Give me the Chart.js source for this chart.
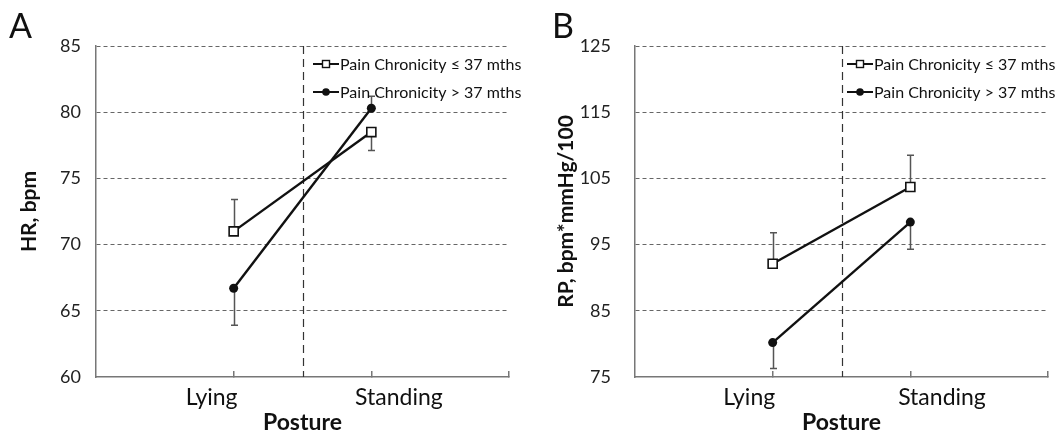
<!DOCTYPE html>
<html>
<head>
<meta charset="utf-8">
<script src="https://cdn.jsdelivr.net/npm/chart.js@4"></script>
<style>
  body { margin: 0; background: #fff; }
  .panel { position: absolute; top: 0; height: 433px; }
  .tag { position: absolute; top: 4px; font: 34px Lato, sans-serif; color: #111; }
</style>
</head>
<body>
<div class="panel" style="left:0;width:530px">
  <div class="tag" style="left:9px">A</div>
  <canvas id="chartA" width="530" height="433"></canvas>
</div>
<div class="panel" style="left:530px;width:529px">
  <div class="tag" style="left:22px">B</div>
  <canvas id="chartB" width="529" height="433"></canvas>
</div>
<script>
// data
const postures = ["Lying", "Standing"];
const postureX = [1, 2];
const seriesNames = ["Pain Chronicity \u2264 37 mths", "Pain Chronicity > 37 mths"];

const hrShort = [71.0, 78.5];
const hrLong = [66.7, 80.3];
const hrShortErr = [73.4, 77.1];   // end of one-sided error bar
const hrLongErr = [63.9, 81.2];
const hrTicks = [60, 65, 70, 75, 80, 85];

const rpShort = [92.1, 103.7];
const rpLong = [80.2, 98.4];
const rpShortErr = [96.8, 108.5];
const rpLongErr = [76.3, 94.3];
const rpTicks = [75, 85, 95, 105, 115, 125];

const FONT = "Lato, 'Open Sans', sans-serif";

function points(vals) {
    return vals.map((v, i) => ({ x: postureX[i], y: v }));
}

const extras = {
    id: "extras",
    beforeDatasetsDraw(chart, args, o) {
        const ctx = chart.ctx;
        const xs = chart.scales.x, ys = chart.scales.y;
        const a = chart.chartArea;

        // dashed divider between postures
        ctx.save();
        ctx.strokeStyle = "#333";
        ctx.lineWidth = 1.2;
        ctx.setLineDash([8, 5]);
        const dx = Math.round(xs.getPixelForValue(1.5)) + 0.5;
        ctx.beginPath();
        ctx.moveTo(dx, a.top);
        ctx.lineTo(dx, a.bottom);
        ctx.stroke();
        ctx.restore();

        // one-sided error bars
        ctx.save();
        ctx.strokeStyle = "#555";
        ctx.lineWidth = 1.5;
        chart.data.datasets.forEach(ds => {
            ds.data.forEach((p, i) => {
                const x = Math.round(xs.getPixelForValue(p.x)) + 0.5;
                const y0 = ys.getPixelForValue(p.y);
                const y1 = ys.getPixelForValue(ds.errEnd[i]);
                ctx.beginPath();
                ctx.moveTo(x, y0);
                ctx.lineTo(x, y1);
                ctx.moveTo(x - 3.5, y1);
                ctx.lineTo(x + 3.5, y1);
                ctx.stroke();
            });
        });
        ctx.restore();
    },
    afterDraw(chart, args, o) {
        const ctx = chart.ctx;
        const xs = chart.scales.x;
        const a = chart.chartArea;
        ctx.save();
        ctx.fillStyle = "#111";

        // category labels
        ctx.font = "23px " + FONT;
        ctx.textAlign = "center";
        ctx.textBaseline = "alphabetic";
        postures.forEach((p, i) => {
            ctx.fillText(p, xs.getPixelForValue(o.labelX[i]), 405);
        });
        ctx.font = "bold 23px " + FONT;
        ctx.fillText("Posture", xs.getPixelForValue(1.5), 430);

        // y title
        ctx.save();
        ctx.translate(o.titleX, (a.top + a.bottom) / 2);
        ctx.rotate(-Math.PI / 2);
        ctx.textBaseline = "middle";
        ctx.font = "bold 21px " + FONT;
        ctx.fillText(o.title, 0, 0);
        ctx.restore();

        // legend
        ctx.font = "16px " + FONT;
        ctx.textAlign = "left";
        ctx.textBaseline = "middle";
        chart.data.datasets.forEach((ds, i) => {
            const y = o.legendY[i];
            const x0 = o.legendX;
            ctx.strokeStyle = "#111";
            ctx.lineWidth = 2;
            ctx.beginPath();
            ctx.moveTo(x0, y);
            ctx.lineTo(x0 + 26, y);
            ctx.stroke();
            const mx = x0 + 13;
            ctx.lineWidth = 1.4;
            if (ds.pointStyle === "rect") {
                ctx.fillStyle = "#fff";
                ctx.fillRect(mx - 3.5, y - 3.5, 7, 7);
                ctx.strokeRect(mx - 3.5, y - 3.5, 7, 7);
            } else {
                ctx.fillStyle = "#111";
                ctx.beginPath();
                ctx.arc(mx, y, 3.8, 0, Math.PI * 2);
                ctx.fill();
            }
            ctx.fillStyle = "#111";
            ctx.fillText(ds.label, x0 + 27, y + 1);
        });
        ctx.restore();
    }
};

function makePanel(id, short, long, shortErr, longErr, ticks, opts) {
    const step = ticks[1] - ticks[0];
    new Chart(document.getElementById(id), {
        type: "line",
        data: {
            datasets: [{
                label: seriesNames[0],
                data: points(short),
                errEnd: shortErr,
                borderColor: "#111",
                borderWidth: 2.4,
                pointStyle: "rect",
                pointRadius: 6.4,
                pointBorderWidth: 1.6,
                pointBackgroundColor: "#fff",
                pointBorderColor: "#111"
            }, {
                label: seriesNames[1],
                data: points(long),
                errEnd: longErr,
                borderColor: "#111",
                borderWidth: 2.4,
                pointStyle: "circle",
                pointRadius: 4.5,
                pointBorderWidth: 0,
                pointBackgroundColor: "#111"
            }]
        },
        options: {
            responsive: false,
            animation: false,
            devicePixelRatio: 1,
            layout: { padding: { left: 0, right: opts.padRight, top: 46, bottom: 0 } },
            plugins: {
                legend: { display: false },
                tooltip: { enabled: false },
                extras: opts
            },
            scales: {
                x: {
                    type: "linear",
                    min: 0,
                    max: 3,
                    afterBuildTicks: s => { s.ticks = [{ value: 1 }, { value: 2 }, { value: 3 }]; },
                    afterFit: s => { s.height = 56; },
                    ticks: { display: false },
                    grid: { drawOnChartArea: false, drawTicks: true, tickLength: -6, color: "#777", lineWidth: 1.5 },
                    border: { color: "#777", width: 1.5 }
                },
                y: {
                    min: ticks[0],
                    max: ticks[ticks.length - 1],
                    afterFit: s => { s.width = opts.axisWidth; },
                    ticks: {
                        stepSize: step,
                        padding: opts.tickPad,
                        color: "#222",
                        font: { family: FONT, size: 18 }
                    },
                    grid: {
                        drawTicks: false,
                        color: c => c.tick && c.tick.value === ticks[0] ? "rgba(0,0,0,0)" : "#666",
                        lineWidth: 1
                    },
                    border: { color: "#777", width: 1.5, dash: [4, 3] }
                }
            }
        },
        plugins: [extras]
    });
}

makePanel("chartA", hrShort, hrLong, hrShortErr, hrLongErr, hrTicks, {
    title: "HR, bpm", titleX: 29, axisWidth: 96, tickPad: 15, padRight: 21,
    labelX: [0.84, 2.2], legendX: 313, legendY: [64, 92]
});
makePanel("chartB", rpShort, rpLong, rpShortErr, rpLongErr, rpTicks, {
    title: "RP, bpm*mmHg/100", titleX: 36, axisWidth: 105, tickPad: 24, padRight: 11,
    labelX: [0.83, 2.23], legendX: 317, legendY: [64, 92]
});
</script>
</body>
</html>
